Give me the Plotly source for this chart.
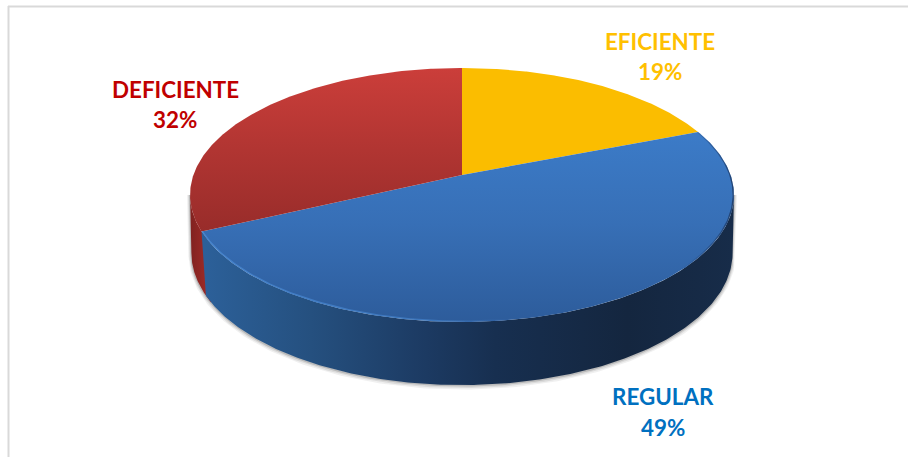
import numpy as np
import plotly.graph_objects as go

# Survey result, in percent, clockwise from twelve o'clock
categories = ["EFICIENTE", "REGULAR", "DEFICIENTE"]
shares = [19, 49, 32]
label_colors = ["#FFC000", "#0070C0", "#C00000"]
label_center_x = [659.5, 663, 175]
name_center_y = [41, 396, 89]
share_center_y = [71, 427, 119]

W, H = 908, 457
APEX_X, APEX_Y = 462, 175     # projected centre of the disc
SCALE_X, SCALE_Y = 268.6, 123.9
PERSPECTIVE = 0.157
DEPTH = 58


def project(deg):
    """Perspective projection of a point on the rim of the tilted disc."""
    t = np.radians(deg)
    w = 1 + PERSPECTIVE * np.cos(t)
    return APEX_X + SCALE_X * np.sin(t) / w, APEX_Y - SCALE_Y * np.cos(t) / w


def rim(a0, a1, n=240):
    return project(np.linspace(a0, a1, n))


def lower(x, y):
    """Same rim on the underside of the pie."""
    return APEX_X + (x - APEX_X) * 0.995, y + DEPTH + (y - 195) * 0.04


def polygon(x, y, gradient=None, color=None):
    kw = dict(x=np.round(x, 2), y=np.round(y, 2), mode="lines", line=dict(width=0),
              fill="toself", hoverinfo="skip", showlegend=False)
    if gradient:
        kw["fillgradient"] = gradient
    else:
        kw["fillcolor"] = color
    return go.Scatter(**kw)


def grad(kind, start, stop, stops):
    return dict(type=kind, start=start, stop=stop, colorscale=stops)


edges = np.cumsum([0] + shares) * 3.6
a_eff, a_reg, a_def = edges[1], edges[2], edges[3]

# Angles at which the rim reaches its widest point on screen
side_right = np.degrees(np.arccos(-PERSPECTIVE))
side_left = 360 - side_right

fig = go.Figure()

# soft shadow hugging the underside
for width, alpha, off in [(6, 0.08, 1.5), (4, 0.12, 1), (2, 0.22, 0.5)]:
    sx, sy = lower(*rim(side_right, side_left))
    fig.add_trace(go.Scatter(x=np.round(np.r_[project(side_right)[0], sx, project(side_left)[0]], 2),
                             y=np.round(np.r_[project(side_right)[1], sy + off, project(side_left)[1]], 2),
                             mode="lines",
                             line=dict(width=width, color=f"rgba(70,70,70,{alpha})"),
                             hoverinfo="skip", showlegend=False))

# side walls, closed straight down at the widest points; the red one runs
# slightly under the blue one so the seam stays closed
tx, ty = rim(a_reg - 5, side_left)
bx, by = lower(tx, ty)
fig.add_trace(polygon(np.r_[tx, bx[::-1]], np.r_[ty, by[::-1]],
                      grad("horizontal", 190, 210, [[0, "#7f2220"], [1, "#a42c28"]])))

tx, ty = rim(side_right, a_reg)
bx, by = lower(*rim(side_right, a_reg - 2))
fig.add_trace(polygon(np.r_[tx, bx[::-1]], np.r_[ty, by[::-1]],
                      grad("horizontal", 205, 733,
                           [[0, "#2c6099"], [0.2, "#25507f"], [0.42, "#1c3a62"],
                            [0.55, "#172f50"], [0.8, "#14263f"], [1, "#172c49"]])))

# top faces
x, y = rim(0, a_eff)
fig.add_trace(polygon(np.r_[APEX_X, x], np.r_[APEX_Y, y], color="#FBBD00"))

x, y = rim(a_eff, a_reg)
fig.add_trace(polygon(np.r_[APEX_X, x], np.r_[APEX_Y, y],
                      grad("vertical", 126, 322, [[0, "#3c7cc9"], [0.5, "#376fb6"], [1, "#2d5c9b"]])))

x, y = rim(a_reg, a_def)
fig.add_trace(polygon(np.r_[APEX_X, x], np.r_[APEX_Y, y],
                      grad("vertical", 68, 232, [[0, "#cb3e3a"], [0.5, "#b13532"], [1, "#982c2a"]])))

# bevel along the front rim: lit on the left, shaded on the right
x, y = rim(a_eff, a_reg)
xi = APEX_X + (x - APEX_X) * 0.995
yi = APEX_Y + (y - APEX_Y) * 0.99
fig.add_trace(polygon(np.r_[x, xi[::-1]], np.r_[y, yi[::-1]],
                      grad("horizontal", 200, 733,
                           [[0, "rgba(75,140,215,0.75)"], [0.45, "rgba(70,135,210,0.6)"],
                            [0.6, "rgba(60,110,180,0)"], [0.9, "rgba(30,60,110,0)"],
                            [1, "rgba(20,40,75,0.65)"]])))

# category names and percentages, one line each
for name, share, color, cx, ny, sy in zip(categories, shares, label_colors,
                                          label_center_x, name_center_y, share_center_y):
    for text, cy in ((name, ny), (f"{share}%", sy)):
        fig.add_annotation(x=cx, y=cy, text=text, showarrow=False,
                           xanchor="center", yanchor="middle", align="center",
                           font=dict(family="Lato", size=22.4, color=color, weight="bold"))

fig.update_layout(
    width=W, height=H, margin=dict(l=0, r=0, t=0, b=0),
    paper_bgcolor="white", plot_bgcolor="white",
    xaxis=dict(range=[0, W], visible=False, fixedrange=True),
    yaxis=dict(range=[H, 0], visible=False, fixedrange=True),
    shapes=[
        dict(type="line", x0=8.5, x1=8.5, y0=6, y1=H, line=dict(color="#d9d9d9", width=2)),
        dict(type="line", x0=8, x1=W, y0=6.5, y1=6.5, line=dict(color="#d9d9d9", width=2)),
    ],
)

fig.write_html("out.html")
